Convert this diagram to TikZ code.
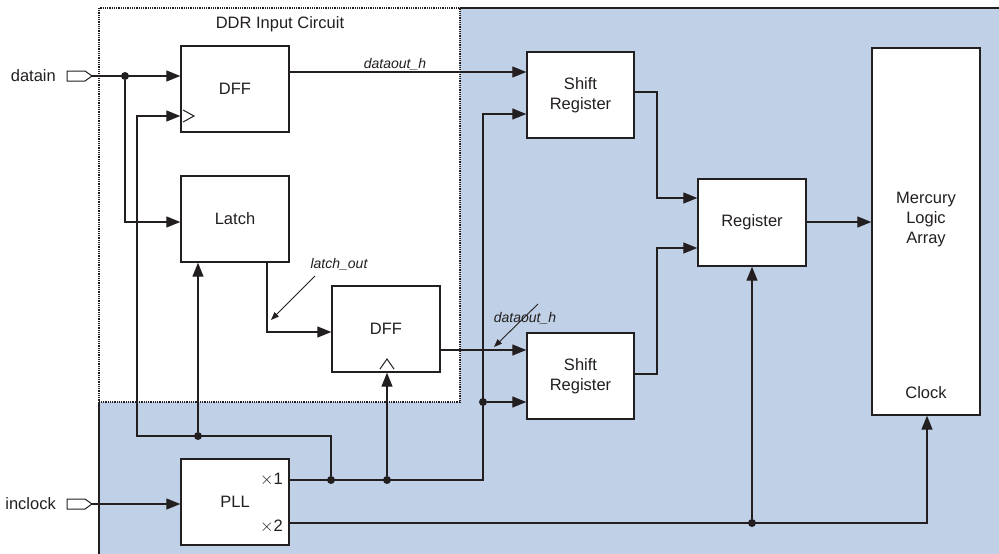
\documentclass[tikz,border=0pt]{standalone}
\usepackage{fontspec}
\setmainfont{Liberation Sans}
\usetikzlibrary{arrows.meta}
\definecolor{bgblue}{RGB}{192,208,230}
\definecolor{ink}{RGB}{35,31,32}
\begin{document}
\begin{tikzpicture}[x=1pt,y=-1pt,
  wire/.style={draw=ink,line width=1.3pt},
  arr/.style={wire,-{Triangle[length=14pt,width=11pt]}},
  note/.style={draw=ink,line width=0.9pt,-{Triangle[length=8pt,width=6pt]}},
  blk/.style={draw=ink,fill=white,line width=1.4pt,rectangle,inner sep=0pt,align=center,font=\fontsize{16.5}{20}\selectfont,text=ink},
  jdot/.style={circle,fill=ink,inner sep=0pt,minimum size=8pt},
  lbl/.style={font=\fontsize{16.5}{20}\selectfont,text=ink,inner sep=0pt},
  ilbl/.style={font=\fontsize{14}{16}\selectfont\itshape,text=ink,inner sep=0pt},
  pin/.style={draw=ink,fill=white,line width=1pt},
  clk/.style={draw=ink,line width=1pt}
]
\useasboundingbox (0,0) rectangle (999,554);
% background
\fill[bgblue] (99,8) rectangle (999,554);
\fill[white] (99,8) rectangle (460,402);
\draw[ink,line width=1.3pt] (460,8) -- (999,8);
\draw[ink,line width=1.3pt] (99,402) -- (99,554);
\draw[ink,line width=1.4pt,dash pattern=on 1pt off 0.8pt] (99,8) rectangle (460,402);
\node[lbl] (ddrlbl) at (280,24) {DDR Input Circuit};

% blocks
\node[blk,minimum width=108pt,minimum height=86pt] (dff1) at (235,89) {DFF};
\node[blk,minimum width=108pt,minimum height=86pt] (latch) at (235,219) {Latch};
\node[blk,minimum width=108pt,minimum height=86pt] (dff2) at (386,329) {DFF};
\node[blk,minimum width=108pt,minimum height=86pt] (pll) at (235,502) {PLL};
\node[blk,minimum width=107pt,minimum height=86pt] (sr1) at (580.5,95) {Shift\\Register};
\node[blk,minimum width=107pt,minimum height=86pt] (sr2) at (580.5,376) {Shift\\Register};
\node[blk,minimum width=108pt,minimum height=87pt] (reg) at (752,222.5) {Register};
\node[blk,minimum width=108pt,minimum height=367pt] (merc) at (926,231.5) {};
\node[lbl,align=center] (merctxt) at (926,220) {Mercury\\Logic\\Array};
\node[lbl] (mercclk) at (926,393) {Clock};
\node[lbl,anchor=east] (x1) at (283,480) {$\times$1};
\node[lbl,anchor=east] (x2) at (283,526) {$\times$2};

% clock symbols
\draw[clk] (183,110) -- (194,116) -- (183,122);
\draw[clk] (380,369) -- (387,359) -- (394,369);

% input pins
\draw[pin] (67,71) -- (85,71) -- (92,76) -- (85,81) -- (67,81) -- cycle;
\coordinate (pinD) at (92,76);
\node[lbl,anchor=east] (datain) at (56,76) {datain};
\draw[pin] (67,499) -- (85,499) -- (92,504) -- (85,509) -- (67,509) -- cycle;
\coordinate (pinC) at (92,504);
\node[lbl,anchor=east] (inclock) at (56,504) {inclock};

% junctions
\node[jdot] (j1) at (125,76) {};
\node[jdot] (j2) at (198,436) {};
\node[jdot] (j3) at (331,480) {};
\node[jdot] (j4) at (387,480) {};
\node[jdot] (j5) at (483,402) {};
\node[jdot] (j6) at (752,523) {};

% routing coordinates
\coordinate (latchin) at (125,222);
\coordinate (clkturn) at (331,436);
\coordinate (clkleft) at (137,436);
\coordinate (clkup) at (137,116);
\coordinate (lo1) at (267,262);
\coordinate (lo2) at (267,332);
\coordinate (pllx1) at (289,480);
\coordinate (x1end) at (483,480);
\coordinate (x1top) at (483,114);
\coordinate (pllx2) at (289,523);
\coordinate (x2end) at (927,523);
\coordinate (s1o) at (634,92);
\coordinate (s1t) at (657,92);
\coordinate (s1b) at (657,198);
\coordinate (s2o) at (634,374);
\coordinate (s2t) at (657,374);
\coordinate (s2b) at (657,248);
\coordinate (d1o) at (289,72);
\coordinate (d2o) at (440,350);

% wires
\draw[arr] (pinD) -- (dff1.west |- pinD);
\draw[arr] (j1) -- (latchin) -- (latch.west |- latchin);
\draw[arr] (j3) -- (clkturn) -- (clkleft) -- (clkup) -- (dff1.west |- clkup);
\draw[arr] (j2) -- (latch.south -| j2);
\draw[arr] (lo1) -- (lo2) -- (dff2.west |- lo2);
\draw[arr] (d2o) -- (sr2.west |- d2o);
\draw[arr] (d1o) -- (sr1.west |- d1o);
\draw[arr] (pllx1) -- (x1end) -- (x1top) -- (sr1.west |- x1top);
\draw[arr] (j4) -- (dff2.south -| j4);
\draw[arr] (j5) -- (sr2.west |- j5);
\draw[arr] (s1o) -- (s1t) -- (s1b) -- (reg.west |- s1b);
\draw[arr] (s2o) -- (s2t) -- (s2b) -- (reg.west |- s2b);
\draw[arr] (reg.east |- 0,222) -- (merc.west |- 0,222);
\draw[arr] (pllx2) -- (x2end) -- (merc.south -| x2end);
\draw[arr] (j6) -- (reg.south -| j6);
\draw[arr] (pinC) -- (pll.west |- pinC);

% annotations
\node[ilbl] (l1) at (395,64) {dataout\_h};
\node[ilbl] (l2) at (339,264) {latch\_out};
\node[ilbl] (l3) at (525,318) {dataout\_h};
\coordinate (n1s) at (315,276);
\coordinate (n1e) at (271,320);
\coordinate (n2s) at (538,304);
\coordinate (n2e) at (494,347);
\draw[note] (n1s) -- (n1e);
\draw[note] (n2s) -- (n2e);
\end{tikzpicture}
\end{document}
